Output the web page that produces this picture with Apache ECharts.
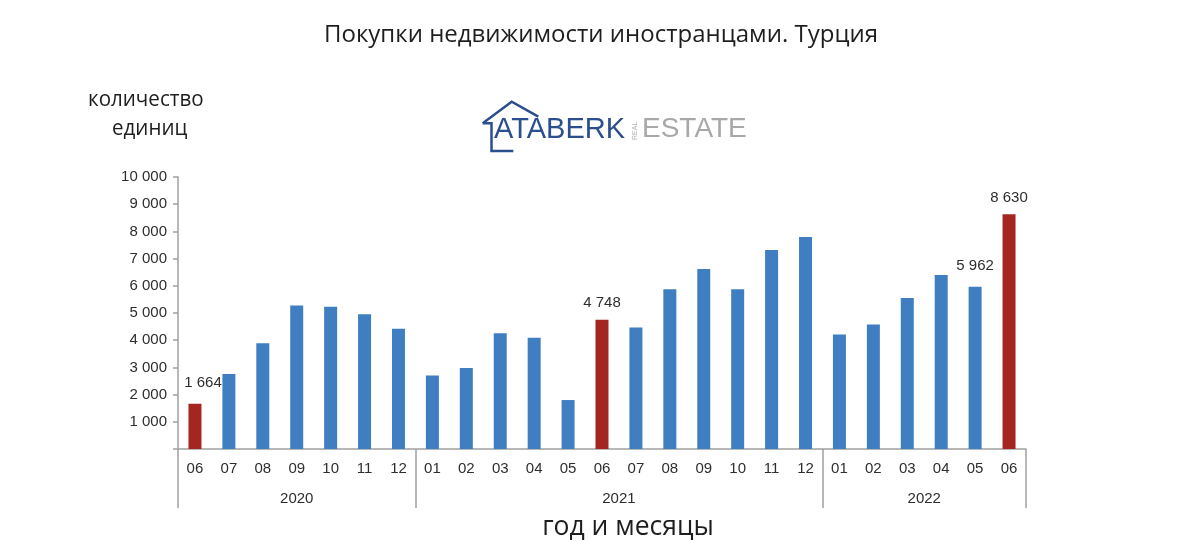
<!DOCTYPE html>
<html><head><meta charset="utf-8">
<script src="https://cdn.jsdelivr.net/npm/echarts@6/dist/echarts.min.js"></script>
<style>html,body{margin:0;padding:0;background:#fff}#c{width:1201px;height:551px}</style>
</head><body><div id="c"></div>
<script>
const months = ['06','07','08','09','10','11','12','01','02','03','04','05','06','07','08','09','10','11','12','01','02','03','04','05','06'];
const values = [1664,2760,3890,5280,5230,4950,4420,2700,2980,4260,4090,1800,4748,4470,5870,6620,5870,7320,7790,4210,4580,5550,6400,5962,8630];
const years = ['2020','2021','2022'];
const yearSpans = [7,12,6];
const redIdx = [0,12,24];
const labelIdx = [0,12,23,24];
const yTicks = [0,1000,2000,3000,4000,5000,6000,7000,8000,9000,10000];

const bounds = [0];
yearSpans.forEach(s => bounds.push(bounds[bounds.length-1] + s));
const yearCenters = yearSpans.map((s,i) => bounds[i] + s/2);

const fmt = v => String(v).replace(/\B(?=(\d{3})+(?!\d))/g, ' ');
const labelOffsets = {0:[8,-4], 23:[0,-4]};

const data = values.map((v,i) => ({
  value: v,
  itemStyle: {color: redIdx.includes(i) ? '#a32620' : '#3f7fc1'},
  label: {show: labelIdx.includes(i), offset: labelOffsets[i] || [0,0]}
}));

const txtFont = 'Liberation Sans, Arial';
const txtCol = '#2e2e2e';
const osText = (t, x, y, size, sx, align) => ({
  type: 'text', x: x, y: y, scaleX: sx,
  style: {text: t, fontFamily: 'Open Sans', fontWeight: 'normal', fontSize: size, fill: '#1e1e1e', align: align, verticalAlign: 'middle'}
});

const chart = echarts.init(document.getElementById('c'));
chart.setOption({
  animation: false,
  grid: {left: 178, right: 175, top: 177, bottom: 102},
  xAxis: [{
    type: 'category', data: months, boundaryGap: true,
    axisLine: {lineStyle: {color: '#a0a0a0', width: 1.5}},
    axisTick: {interval: 0, length: 30, lineStyle: {color: '#a0a0a0', width: 1.5}},
    axisLabel: {interval: 0, margin: 12, fontFamily: txtFont, fontSize: 15, color: txtCol}
  }, {
    type: 'value', min: 0, max: bounds[bounds.length-1], position: 'bottom',
    axisLine: {show: false}, splitLine: {show: false},
    axisTick: {show: true, customValues: bounds, length: 59, lineStyle: {color: '#a0a0a0', width: 1.5}},
    axisLabel: {customValues: yearCenters, margin: 42, fontFamily: txtFont, fontSize: 15, color: txtCol,
      formatter: v => years[yearCenters.indexOf(v)] || ''}
  }],
  yAxis: {
    type: 'value', min: yTicks[0], max: yTicks[yTicks.length-1], interval: 1000,
    axisLine: {show: true, lineStyle: {color: '#a0a0a0', width: 1.5}},
    axisTick: {show: true, length: 5, lineStyle: {color: '#a0a0a0', width: 1.5}},
    splitLine: {show: false},
    axisLabel: {margin: 11, fontFamily: txtFont, fontSize: 15, color: txtCol,
      formatter: v => v === 0 ? '' : fmt(v)}
  },
  series: [{
    type: 'bar', xAxisIndex: 0, data: data, barWidth: 13,
    label: {position: 'top', distance: 9, fontFamily: txtFont, fontSize: 15, color: txtCol,
      formatter: p => fmt(p.value)}
  }],
  graphic: [
    osText('Покупки недвижимости иностранцами. Турция', 601, 35, 24, 1, 'center'),
    osText('количество', 88, 99.4, 22, 0.935, 'left'),
    osText('единиц', 112, 128.7, 22, 0.935, 'left'),
    osText('год и месяцы', 628, 527.3, 27, 0.98, 'center'),
    {type: 'polyline', shape: {points: [[482.7,123.3],[511.7,101.7],[538.3,116.7]]}, style: {stroke: '#2b4f8e', lineWidth: 2.5, fill: null}},
    {type: 'polyline', shape: {points: [[482.7,123.3],[491.5,123.3],[491.5,151],[513.3,151]]}, style: {stroke: '#2b4f8e', lineWidth: 2.5, fill: null}},
    {type: 'text', x: 494, y: 115, style: {text: 'ATABERK', fontFamily: 'Liberation Sans', fontSize: 29, fill: '#2b4f8e'}},
    {type: 'text', x: 632, y: 140, rotation: Math.PI/2, style: {text: 'REAL', fontFamily: 'Liberation Sans', fontSize: 7, fill: '#b5b5b5'}},
    {type: 'text', x: 642, y: 115, style: {text: 'ESTATE', fontFamily: 'Liberation Sans', fontSize: 28, fill: '#a8a8a8'}}
  ]
});
</script></body></html>
